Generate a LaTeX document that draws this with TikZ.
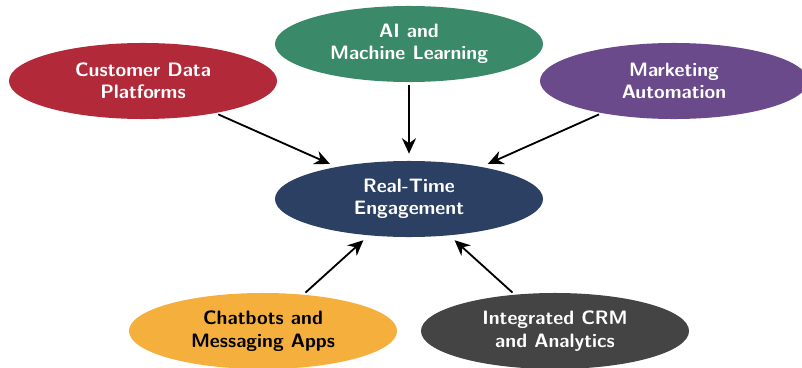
\documentclass[tikz,border=0pt]{standalone}
\usetikzlibrary{arrows.meta}
\usetikzlibrary{shapes.geometric}
\definecolor{cdpred}{rgb}{0.698,0.165,0.227}
\definecolor{aigreen}{rgb}{0.227,0.541,0.412}
\definecolor{mapurple}{rgb}{0.420,0.290,0.549}
\definecolor{rtenavy}{rgb}{0.173,0.251,0.392}
\definecolor{chatorange}{rgb}{0.961,0.686,0.235}
\definecolor{crmgray}{rgb}{0.267,0.267,0.267}

\tikzset{
  blob/.style={ellipse,minimum width=6.7cm,minimum height=1.9cm,inner sep=0pt,
               align=center,text=white,
               font=\sffamily\bfseries\fontsize{13.8}{16}\selectfont},
  feed/.style={-{Stealth[length=11pt,width=10pt]},line width=1.3pt,
               shorten <=2pt,shorten >=5pt}
}

\begin{document}
\begin{tikzpicture}[x=0.025cm,y=-0.025cm]

\useasboundingbox (0,0) rectangle (802,368);

\node [blob,fill=rtenavy] (rte) at (409,199) {Real-Time\\Engagement};

\node [blob,fill=aigreen]   (ai)  at (409,44)  {AI and\\Machine Learning};
\node [blob,fill=cdpred]    (cdp) at (143,81)  {Customer Data\\Platforms};
\node [blob,fill=mapurple]  (ma)  at (674,81)  {Marketing\\Automation};
\node [blob,fill=chatorange,text=black] (chat) at (263,331) {Chatbots and\\Messaging Apps};
\node [blob,fill=crmgray]   (crm) at (555,331) {Integrated CRM\\and Analytics};

% everything feeds the middle
\draw [feed] (cdp)  -- (rte);
\draw [feed] (ai)   -- (rte);
\draw [feed] (ma)   -- (rte);
\draw [feed] (chat) -- (rte);
\draw [feed] (crm)  -- (rte);

\end{tikzpicture}
\end{document}
